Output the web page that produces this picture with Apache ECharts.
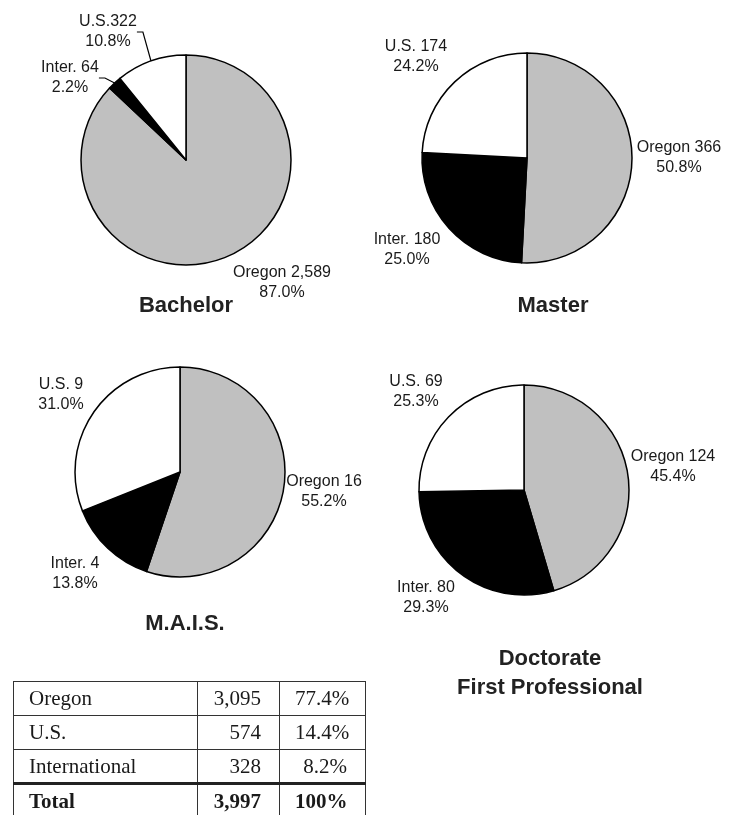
<!DOCTYPE html>
<html>
<head>
<meta charset="utf-8">
<script src="https://cdn.jsdelivr.net/npm/echarts@6/dist/echarts.min.js"></script>
<style>
  html, body { margin: 0; padding: 0; background: #fff; }
  #main { position: absolute; left: 0; top: 0; width: 735px; height: 815px; }
  #totals {
    position: absolute; left: 13px; top: 681px;
    border-collapse: collapse; table-layout: fixed; width: 352px;
    font-family: "Liberation Serif", serif;
    font-size: 21px; color: #1a1a1a;
  }
  #totals td { border: 1.5px solid #333; height: 34px; padding: 0 18px 0 15px; line-height: 1; box-sizing: border-box; }
  #totals td.num { text-align: right; }
  #totals tr.total td { border-top: 3px solid #222; font-weight: bold; }
</style>
</head>
<body>
<div id="main"></div>
<table id="totals"></table>
<script>
const categories = ['Oregon', 'Inter.', 'U.S.']
const bachelorValues = [2589, 64, 322]
const masterValues = [366, 180, 174]
const maisValues = [16, 4, 9]
const doctorateValues = [124, 80, 69]
const pieTitles = ['Bachelor', 'Master', 'M.A.I.S.', 'Doctorate\nFirst Professional']

const tableRows = ['Oregon', 'U.S.', 'International']
const tableCounts = [3095, 574, 328]

const sliceColors = ['#c0c0c0', '#000000', '#ffffff']
const fontSans = '"Liberation Sans", Arial, sans-serif'

// label block centres per pie, in pixels
const pies = [
  { values: bachelorValues, center: [186, 160], sep: [' ', ' ', ''], labels: [[282, 283], [70, 78], [108, 32]], title: [181, 305] },
  { values: masterValues, center: [527, 158], sep: [' ', ' ', ' '], labels: [[679, 158], [407, 250], [416, 57]], title: [548, 305] },
  { values: maisValues, center: [180, 472], sep: [' ', ' ', ' '], labels: [[324, 492], [75, 574], [61, 395]], title: [180, 623] },
  { values: doctorateValues, center: [524, 490], sep: [' ', ' ', ' '], labels: [[673, 467], [426, 598], [416, 392]], title: [545, 658] }
]

function fmt(n) {
  return n.toLocaleString('en-US')
}

const series = pies.map((p, k) => ({
  type: 'pie',
  center: p.center,
  radius: 105,
  startAngle: 90,
  clockwise: true,
  percentPrecision: 1,
  animation: false,
  silent: true,
  itemStyle: { borderColor: '#000', borderWidth: 1.5 },
  label: {
    show: true,
    position: 'outside',
    overflow: 'none',
    fontFamily: fontSans,
    fontSize: 16,
    lineHeight: 20,
    color: '#1a1a1a',
    align: 'center',
    formatter: params => categories[params.dataIndex] + p.sep[params.dataIndex] + fmt(params.value) + '\n' + params.percent.toFixed(1) + '%'
  },
  labelLine: { show: false },
  labelLayout: params => ({
    x: p.labels[params.dataIndex][0],
    y: p.labels[params.dataIndex][1],
    align: 'center',
    verticalAlign: 'middle'
  }),
  data: p.values.map((v, i) => ({
    name: categories[i],
    value: v,
    itemStyle: { color: sliceColors[i] },
    labelLine: (k === 0 && i > 0) ? { show: true, length: 8, length2: 6, lineStyle: { color: '#000', width: 1.2 } } : { show: false }
  }))
}))

const titles = pies.map((p, k) => ({
  text: pieTitles[k],
  left: p.title[0],
  top: p.title[1] - 19,
  textAlign: 'center',
  textStyle: { fontFamily: fontSans, fontSize: 22, fontWeight: 'bold', color: '#222', lineHeight: 29 }
}))

const chart = echarts.init(document.getElementById('main'))
chart.setOption({
  backgroundColor: '#fff',
  title: titles,
  series: series
})

// summary table
const total = tableCounts.reduce((a, b) => a + b, 0)
let html = ''
tableRows.forEach((name, i) => {
  html += '<tr><td style="width:184px">' + name + '</td><td class="num" style="width:82px">' + fmt(tableCounts[i]) +
    '</td><td class="num" style="width:86px">' + (tableCounts[i] / total * 100).toFixed(1) + '%</td></tr>'
})
html += '<tr class="total"><td>Total</td><td class="num">' + fmt(total) + '</td><td class="num">100%</td></tr>'
document.getElementById('totals').innerHTML = html
</script>
</body>
</html>
